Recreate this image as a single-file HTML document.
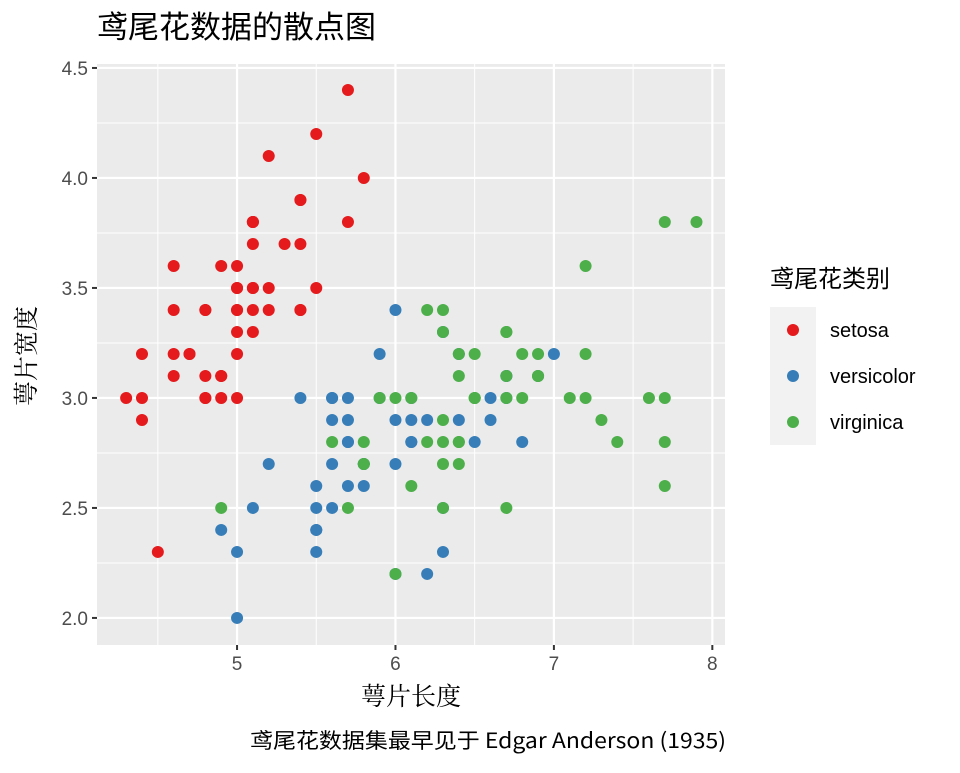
<!DOCTYPE html>
<html><head><meta charset="utf-8"><style>
body{margin:0;background:#fff;}
svg text{font-family:"Liberation Sans","Noto Sans CJK SC",sans-serif;}
svg text.serif{font-family:"Noto Serif CJK SC",serif;}
svg text.cjk{font-family:"Noto Sans CJK SC",sans-serif;}
</style></head><body>
<svg id="chart" width="960" height="768" viewBox="0 0 960 768" xmlns="http://www.w3.org/2000/svg">
<rect width="960" height="768" fill="#fff"/>
<text x="97" y="38" font-size="31" fill="#000">鸢尾花数据的散点图</text>
<rect x="97" y="64" width="628" height="581" fill="#ebebeb"/>
<g id="grid"></g><g id="axes"></g><g id="points"></g>
<text class="serif" x="411" y="705" font-size="25" text-anchor="middle" fill="#000">萼片长度</text>
<text class="serif" transform="translate(35,356) rotate(-90)" font-size="25" text-anchor="middle" fill="#000">萼片宽度</text>
<text class="cjk" x="250" y="748" font-size="21" textLength="476" lengthAdjust="spacingAndGlyphs" fill="#000">鸢尾花数据集最早见于 Edgar Anderson (1935)</text>
<g>
<text x="770" y="287" font-size="24" fill="#000">鸢尾花类别</text>
<rect x="770" y="307" width="46" height="138" fill="#f2f2f2"/>
<g id="legend-entries"></g>
</g>
</svg>
<script>
const species = ["setosa","versicolor","virginica"];
const colors = ["#E41A1C","#377EB8","#4DAF4A"];
const xTicks = [5,6,7,8];
const yTicks = [2.0,2.5,3.0,3.5,4.0,4.5];
const setosaLength = [5.1,4.9,4.7,4.6,5.0,5.4,4.6,5.0,4.4,4.9,5.4,4.8,4.8,4.3,5.8,5.7,5.4,5.1,5.7,5.1,5.4,5.1,4.6,5.1,4.8,5.0,5.0,5.2,5.2,4.7,4.8,5.4,5.2,5.5,4.9,5.0,5.5,4.9,4.4,5.1,5.0,4.5,4.4,5.0,5.1,4.8,5.1,4.6,5.3,5.0];
const setosaWidth = [3.5,3.0,3.2,3.1,3.6,3.9,3.4,3.4,2.9,3.1,3.7,3.4,3.0,3.0,4.0,4.4,3.9,3.5,3.8,3.8,3.4,3.7,3.6,3.3,3.4,3.0,3.4,3.5,3.4,3.2,3.1,3.4,4.1,4.2,3.1,3.2,3.5,3.6,3.0,3.4,3.5,2.3,3.2,3.5,3.8,3.0,3.8,3.2,3.7,3.3];
const versicolorLength = [7.0,6.4,6.9,5.5,6.5,5.7,6.3,4.9,6.6,5.2,5.0,5.9,6.0,6.1,5.6,6.7,5.6,5.8,6.2,5.6,5.9,6.1,6.3,6.1,6.4,6.6,6.8,6.7,6.0,5.7,5.5,5.5,5.8,6.0,5.4,6.0,6.7,6.3,5.6,5.5,5.5,6.1,5.8,5.0,5.6,5.7,5.7,6.2,5.1,5.7];
const versicolorWidth = [3.2,3.2,3.1,2.3,2.8,2.8,3.3,2.4,2.9,2.7,2.0,3.0,2.2,2.9,2.9,3.1,3.0,2.7,2.2,2.5,3.2,2.8,2.5,2.8,2.9,3.0,2.8,3.0,2.9,2.6,2.4,2.4,2.7,2.7,3.0,3.4,3.1,2.3,3.0,2.5,2.6,3.0,2.6,2.3,2.7,3.0,2.9,2.9,2.5,2.8];
const virginicaLength = [6.3,5.8,7.1,6.3,6.5,7.6,4.9,7.3,6.7,7.2,6.5,6.4,6.8,5.7,5.8,6.4,6.5,7.7,7.7,6.0,6.9,5.6,7.7,6.3,6.7,7.2,6.2,6.1,6.4,7.2,7.4,7.9,6.4,6.3,6.1,7.7,6.3,6.4,6.0,6.9,6.7,6.9,5.8,6.8,6.7,6.7,6.3,6.5,6.2,5.9];
const virginicaWidth = [3.3,2.7,3.0,2.9,3.0,3.0,2.5,2.9,2.5,3.6,3.2,2.7,3.0,2.5,2.8,3.2,3.0,3.8,2.6,2.2,3.2,2.8,2.8,2.7,3.3,3.2,2.8,3.0,2.8,3.0,2.8,3.8,2.8,2.8,2.6,3.0,3.4,3.1,3.0,3.1,3.1,3.1,2.7,3.2,3.3,3.0,2.5,3.0,3.4,3.0];

const NS="http://www.w3.org/2000/svg";
const X0=97,X1=725,Y0=64,Y1=645;
const xMin=4.116,xMax=8.08,yMin=1.877,yMax=4.518;
function sx(v){return X0+(v-xMin)/(xMax-xMin)*(X1-X0);}
function sy(v){return Y1-(v-yMin)/(yMax-yMin)*(Y1-Y0);}
function mk(tag,attrs,parent){const e=document.createElementNS(NS,tag);for(const k in attrs)e.setAttribute(k,attrs[k]);parent.appendChild(e);return e;}
const grid=document.getElementById('grid'),axes=document.getElementById('axes'),pts=document.getElementById('points');
for(let i=0;i<xTicks.length;i++){const v=xTicks[i]-0.5;if(v>xMin){const l=mk('line',{x1:sx(v),x2:sx(v),y1:Y0,y2:Y1,stroke:'#fff','stroke-width':1},grid);

}}
for(let i=0;i<yTicks.length;i++){const v=yTicks[i]+0.25;if(v<yMax){const l=mk('line',{x1:X0,x2:X1,y1:sy(v),y2:sy(v),stroke:'#fff','stroke-width':1},grid);

}}
xTicks.forEach(v=>{const l=mk('line',{x1:sx(v),x2:sx(v),y1:Y0,y2:Y1,stroke:'#fff','stroke-width':2.2},grid);


mk('line',{x1:sx(v),x2:sx(v),y1:Y1,y2:Y1+5,stroke:'#333','stroke-width':2},axes);
const tx=mk('text',{x:sx(v),y:Y1+25,'font-size':19,'text-anchor':'middle',fill:'#4d4d4d'},axes);tx.textContent=v;

});
yTicks.forEach(v=>{const l=mk('line',{x1:X0,x2:X1,y1:sy(v),y2:sy(v),stroke:'#fff','stroke-width':2.2},grid);


mk('line',{x1:X0-5,x2:X0,y1:sy(v),y2:sy(v),stroke:'#333','stroke-width':2},axes);
const tx=mk('text',{x:X0-9,y:sy(v)+7,'font-size':19,'text-anchor':'end',fill:'#4d4d4d'},axes);tx.textContent=v.toFixed(1);

});
const series=[[setosaLength,setosaWidth],[versicolorLength,versicolorWidth],[virginicaLength,virginicaWidth]];
series.forEach((s,k)=>{s[0].forEach((xv,i)=>{const c=mk('circle',{cx:sx(xv),cy:sy(s[1][i]),r:6,fill:colors[k]},pts);

});});
const le=document.getElementById('legend-entries');
species.forEach((sp,k)=>{const cy=330+k*46;
const c=mk('circle',{cx:793,cy:cy,r:6,fill:colors[k]},le);


const t=mk('text',{x:830,y:cy+7,'font-size':20,fill:'#000'},le);t.textContent=sp;

});
</script>
</body></html>
